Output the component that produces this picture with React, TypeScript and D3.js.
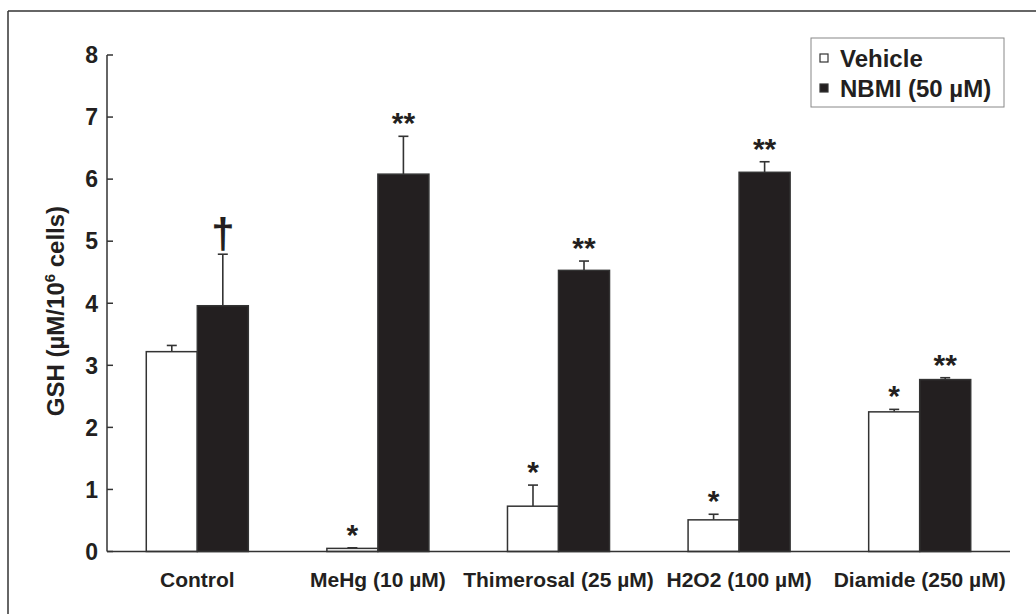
import React from "react";
import * as d3 from "d3";

const categories = ["Control", "MeHg (10 µM)", "Thimerosal (25 µM)", "H2O2 (100 µM)", "Diamide (250 µM)"];
const seriesNames = ["Vehicle", "NBMI (50 µM)"];
const vehicle = [3.22, 0.05, 0.73, 0.51, 2.25];
const vehicleErr = [0.1, 0.01, 0.34, 0.09, 0.04];
const nbmi = [3.96, 6.08, 4.53, 6.11, 2.77];
const nbmiErr = [0.83, 0.61, 0.15, 0.17, 0.03];
const vehicleMarks = ["", "*", "*", "*", "*"];
const nbmiMarks = ["†", "**", "**", "**", "**"];
const yTicks = [0, 1, 2, 3, 4, 5, 6, 7, 8];

const W = 1036;
const H = 614;
const font = "Arial, 'Liberation Sans', sans-serif";
const ink = "#231f20";

export default function App() {
  const y = d3.scaleLinear().domain([0, 8]).range([551.5, 55]);
  const x0 = d3
    .scaleBand<string>()
    .domain(categories)
    .range([107, 1010])
    .paddingInner(0.435)
    .paddingOuter(0.2175);
  const x1 = d3.scaleBand<string>().domain(seriesNames).range([0, x0.bandwidth()]);

  const series = [
    { name: seriesNames[0], values: vehicle, errs: vehicleErr, marks: vehicleMarks, fill: "#fff" },
    { name: seriesNames[1], values: nbmi, errs: nbmiErr, marks: nbmiMarks, fill: ink },
  ];

  return (
    <div style={{ position: "fixed", left: 0, top: 0 }}>
      <svg width={W} height={H} style={{ display: "block", background: "#fff" }}>
        {/* figure frame */}
        <line x1={8} y1={11} x2={W} y2={11} stroke="#333" strokeWidth={1.5} />
        <line x1={8} y1={11} x2={8} y2={H} stroke="#333" strokeWidth={1.5} />

        {/* bars, error bars, significance marks */}
        {series.map((s) =>
          categories.map((c, i) => {
            const bx = x0(c)! + x1(s.name)!;
            const bw = x1.bandwidth();
            const top = y(s.values[i]);
            const errTop = y(s.values[i] + s.errs[i]);
            const cx = bx + bw / 2;
            const mark = s.marks[i];
            const dagger = mark === "†";
            return (
              <g key={s.name + c}>
                <line x1={cx} x2={cx} y1={top} y2={errTop} stroke="#333" strokeWidth={1.6} />
                <line x1={cx - 5} x2={cx + 5} y1={errTop} y2={errTop} stroke="#333" strokeWidth={1.6} />
                <rect
                  x={bx}
                  y={top}
                  width={bw}
                  height={y(0) - top}
                  fill={s.fill}
                  stroke="#333"
                  strokeWidth={1.5}
                />
                {mark && (
                  <text
                    x={cx}
                    y={dagger ? errTop - 6 : errTop - 3}
                    textAnchor="middle"
                    fontFamily={font}
                    fontWeight="bold"
                    fontSize={dagger ? 42 : 30}
                    fill={ink}
                  >
                    {mark}
                  </text>
                )}
              </g>
            );
          })
        )}

        {/* y axis */}
        <line x1={107} x2={107} y1={y(8)} y2={y(0)} stroke="#333" strokeWidth={1.5} />
        {yTicks.map((t) => (
          <g key={t}>
            <line x1={107} x2={113} y1={y(t)} y2={y(t)} stroke="#333" strokeWidth={1.5} />
            <text
              x={98}
              y={y(t)}
              dy="0.36em"
              textAnchor="end"
              fontFamily={font}
              fontWeight="bold"
              fontSize={23}
              fill={ink}
            >
              {t}
            </text>
          </g>
        ))}

        {/* x axis */}
        <line x1={107} x2={1010} y1={y(0)} y2={y(0)} stroke="#333" strokeWidth={1.5} />
        {categories.map((c) => (
          <text
            key={c}
            x={x0(c)! + x0.bandwidth() / 2}
            y={587}
            textAnchor="middle"
            fontFamily={font}
            fontWeight="bold"
            fontSize={21}
            fill={ink}
          >
            {c}
          </text>
        ))}

        {/* y axis title */}
        <text
          transform="translate(64,311) rotate(-90)"
          textAnchor="middle"
          fontFamily={font}
          fontWeight="bold"
          fontSize={24}
          fill={ink}
        >
          GSH (µM/10<tspan fontSize={15} dy={-9}>6</tspan>
          <tspan dy={9}> cells)</tspan>
        </text>

        {/* legend */}
        <rect x={811} y={38} width={193} height={69} fill="#fff" stroke="#888" strokeWidth={1} />
        {series.map((s, i) => (
          <g key={s.name} transform={`translate(820,${58 + i * 30})`}>
            <rect x={0} y={-4} width={8} height={8} fill={s.fill} stroke="#333" strokeWidth={1.2} />
            <text x={20} y={0} dy="0.36em" fontFamily={font} fontWeight="bold" fontSize={24} fill={ink}>
              {s.name}
            </text>
          </g>
        ))}
      </svg>
    </div>
  );
}
